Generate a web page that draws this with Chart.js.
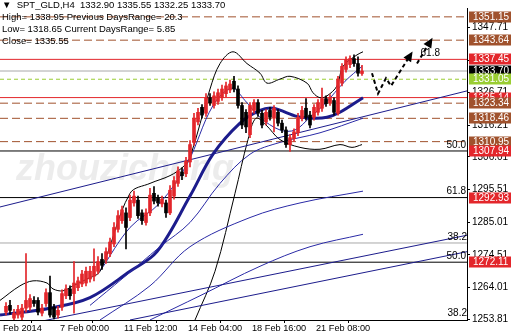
<!DOCTYPE html>
<html>
<head>
<meta charset="utf-8">
<script src="https://cdn.jsdelivr.net/npm/chart.js@4.4.0/dist/chart.umd.min.js"></script>
<style>
  html, body { margin: 0; padding: 0; background: #fff; }
</style>
</head>
<body>
<canvas id="chart" width="511" height="336"></canvas>
<script>
// SPT_GLD H4 candles (bar index, O/H/L/C)
const opens  = [1256.0,1258.2,1254.1,1255.1,1254.4,1257.3,1257.6,1259.8,1259.8,1255.7,1258.8,1262.3,1257.6,1255.1,1257.6,1261.3,1263.5,1262.0,1263.9,1265.1,1265.4,1266.7,1267.6,1269.2,1273.0,1273.0,1274.9,1278.0,1282.7,1285.5,1288.0,1286.5,1291.2,1292.1,1288.0,1284.9,1288.0,1294.3,1292.8,1290.9,1291.2,1288.0,1293.4,1297.5,1301.2,1300.6,1304.4,1310.7,1317.3,1322.0,1320.1,1325.1,1322.6,1323.9,1325.1,1326.4,1327.6,1330.4,1327.9,1322.6,1320.4,1313.2,1321.0,1323.5,1320.1,1317.3,1321.0,1318.5,1320.4,1316.9,1314.7,1310.0,1311.9,1313.8,1318.5,1321.7,1319.5,1318.8,1320.4,1321.7,1324.8,1323.5,1324.2,1320.1,1329.8,1334.2,1335.8,1337.7,1336.1,1332.90];
const highs  = [1259.1,1259.8,1256.9,1258.2,1258.5,1274.9,1261.7,1261.0,1260.7,1258.5,1263.5,1267.6,1258.5,1257.9,1263.2,1264.8,1264.5,1272.3,1267.3,1269.5,1270.5,1270.8,1276.4,1273.9,1274.9,1276.7,1279.9,1284.9,1288.7,1290.2,1289.6,1293.7,1295.0,1293.4,1289.0,1289.3,1295.9,1296.5,1293.7,1293.4,1292.1,1296.8,1299.7,1302.8,1302.5,1305.9,1311.3,1320.1,1321.7,1322.9,1326.4,1326.4,1327.0,1327.9,1329.2,1330.1,1330.8,1332.0,1328.9,1323.5,1321.3,1323.5,1324.5,1324.5,1321.0,1321.3,1322.0,1322.6,1321.3,1317.9,1315.7,1313.2,1315.1,1320.1,1322.3,1324.8,1320.7,1322.9,1324.5,1328.2,1325.7,1326.1,1325.1,1332.0,1336.1,1338.3,1338.6,1338.9,1338.3,1335.55];
const lows   = [1255.1,1255.4,1253.5,1254.1,1253.5,1256.0,1256.6,1257.9,1255.1,1254.8,1257.9,1254.4,1253.8,1254.1,1256.6,1260.4,1260.1,1255.7,1262.9,1264.2,1264.5,1265.7,1266.1,1268.3,1269.8,1271.7,1273.9,1277.1,1281.8,1284.6,1276.4,1285.5,1290.2,1286.2,1284.3,1284.0,1287.1,1290.9,1290.2,1289.9,1286.5,1287.4,1292.4,1296.5,1298.7,1299.7,1302.8,1309.7,1316.3,1318.5,1319.1,1322.6,1321.7,1322.9,1324.2,1325.4,1326.7,1327.0,1321.7,1315.1,1313.8,1312.2,1320.1,1319.1,1315.4,1316.3,1317.9,1314.1,1316.0,1313.8,1309.1,1307.8,1311.0,1312.9,1317.6,1317.9,1315.4,1317.9,1319.5,1320.7,1322.3,1322.6,1319.5,1319.5,1328.9,1333.3,1334.8,1335.2,1332.0,1332.25];
const closes = [1257.9,1256.6,1255.7,1256.9,1257.3,1259.8,1260.4,1258.8,1256.0,1257.3,1262.3,1255.1,1254.4,1256.6,1262.0,1263.5,1261.3,1265.4,1266.1,1268.3,1269.2,1269.2,1270.8,1272.3,1271.1,1275.5,1278.6,1283.3,1287.1,1289.0,1283.3,1292.1,1293.4,1287.1,1285.5,1288.0,1293.7,1291.8,1291.2,1292.4,1288.0,1295.3,1298.4,1301.5,1300.0,1304.7,1310.0,1318.5,1320.4,1319.5,1325.1,1323.5,1325.7,1326.7,1327.9,1328.9,1329.5,1327.9,1322.6,1316.3,1315.7,1322.6,1323.5,1320.1,1316.3,1320.4,1318.8,1321.7,1316.9,1314.7,1310.0,1312.2,1314.1,1318.8,1321.0,1318.8,1316.3,1322.0,1323.5,1324.8,1323.2,1325.1,1320.4,1331.1,1335.2,1337.4,1337.7,1336.1,1333.0,1333.70];

// indicator lines: [bar index, price]
const maFast  = [[23.5,1269.2],[31,1283.3],[38.5,1291.2],[45.25,1303.7],[51.75,1322.6],[56.5,1328.2],[59.75,1324.2],[63.5,1318.8],[68.5,1314.7],[72.25,1314.7],[76,1318.8],[79.75,1323.2],[84.75,1330.4],[89,1335.2]];
const maThick = [[-1.5,1255.1],[11,1257.3],[21,1260.7],[31,1269.2],[37.75,1275.5],[46,1293.4],[51.75,1306.9],[58.5,1316.9],[63.5,1321.0],[66.75,1321.7],[72.75,1319.1],[76.75,1318.5],[80.25,1318.8],[83.5,1320.4],[89.25,1325.1]];
const maSlow  = [[21,1258.2],[29.25,1267.0],[38.5,1277.1],[46,1284.9],[53.5,1297.5],[61,1306.9],[68.5,1310.7],[78.5,1313.8],[89.25,1318.5]];
const maLong1 = [[23.5,1253.5],[36,1264.5],[46,1277.1],[61,1286.5],[73.5,1291.2],[89.25,1295.0]];
const maLong2 = [[36,1253.5],[48.5,1261.3],[63.5,1270.8],[76,1277.1],[89.25,1281.1]];
const bandUpper = [[-1.5,1259.8],[3.5,1264.5],[6.75,1266.1],[10.25,1265.4],[11.75,1263.5],[14.25,1262.9],[16.75,1264.5],[20.25,1266.7],[23.5,1269.2],[31,1294.3],[36,1297.5],[41,1300.0],[44.25,1302.8],[46,1305.9],[51,1327.9],[53.5,1336.1],[56.75,1339.9],[60.25,1336.1],[63.5,1333.0],[65.25,1329.8],[68.5,1331.1],[71,1332.0],[75.25,1329.8],[76.75,1326.7],[78.5,1325.1],[80.25,1325.7],[82.75,1328.9],[84.25,1335.2],[87.75,1338.9],[89.25,1339.9]];
const bandLower = [[47.25,1253.5],[52.25,1269.2],[57.25,1294.3],[60.5,1311.6],[62.5,1318.5],[65,1316.3],[68.5,1311.6],[73.5,1309.1],[78.5,1308.5],[83.5,1310.0],[86.5,1309.1],[89,1310.0]];
const trend1 = [[-1.5,1289.9],[115.25,1327.3]];
const trend2 = [[-1.5,1250.4],[115.25,1280.8]];
const trend3 = [[31,1253.5],[115.25,1275.5]];
const forecast1 = [[91.5,1333.0],[93,1326.4],[95,1331.4],[96.25,1328.9],[101.25,1339.2]];
const forecast2 = [[102.75,1336.1],[106.25,1343.6]];

// horizontal levels and right-hand price tags
const levelPrices = [1351.15, 1343.64, 1337.45, 1333.70, 1331.05, 1325.14, 1323.34, 1318.46, 1310.95, 1307.94, 1292.93, 1278.30, 1272.11];
const levelKinds  = ['brown','brown','red','gray','green','red','brown','brown','brown','black','black','gray','black'];
const tagPrices = [1351.15, 1343.64, 1337.45, 1333.70, 1331.05, 1325.14, 1323.34, 1318.46, 1310.95, 1307.94, 1292.93, 1272.11];
const tagKinds  = ['brown','brown','red','black','green','red','brown','brown','brown','red','red','red'];
const fibTexts  = ['61.8', '50.0', '61.8', '38.2', '50.0', '38.2'];
const fibPrices = [1337.45, 1307.94, 1292.93, 1278.30, 1272.11, 1253.81];
const fibAtBar  = [108.5, 115, 115, 115.25, 115, 115.25];

const priceTicks = [1347.71, 1337.21, 1326.71, 1316.21, 1306.01, 1295.51, 1285.01, 1274.51, 1264.01, 1253.81];
const timeTicks  = [-0.75, 13.5, 29.5, 45.5, 61.5, 77.5];
const timeLabels = ['Feb 2014', '7 Feb 00:00', '11 Feb 12:00', '14 Feb 04:00', '18 Feb 16:00', '21 Feb 08:00'];

const headerLines = [
    '\u25BC  SPT_GLD,H4  1332.90 1335.55 1332.25 1333.70',
    'High= 1338.95 Previous DaysRange= 20.3',
    'Low= 1318.65 Current DaysRange= 5.85',
    'Close= 1335.55'
];

const COLORS = {
    brown: '#a0522d',
    red: '#e3262b',
    gray: '#a8a8a8',
    green: '#9acd32',
    black: '#000000',
    navy: '#1c1c8c',
    blue: '#2a2aa6'
};
const FONT = '"Liberation Sans", "DejaVu Sans", sans-serif';
const X_MIN = -1.5;
const X_MAX = 115.25;

const isUp = (i) => closes[i] >= opens[i];
const candleColor = (ctx) => (isUp(ctx.dataIndex) ? COLORS.red : COLORS.black);
const toPoints = (arr) => arr.map(([x, y]) => ({ x, y }));

function lineSet(points, color, width, extra = {}) {
    return Object.assign({
        type: 'line',
        data: toPoints(points),
        borderColor: color,
        borderWidth: width,
        pointRadius: 0,
        tension: 0.35,
        fill: false,
        order: 5
    }, extra);
}

function levelSet(price, kind) {
    const dash = kind === 'brown' ? [8, 4] : kind === 'green' ? [4, 3] : [];
    return {
        type: 'line',
        data: [{ x: X_MIN, y: price }, { x: X_MAX, y: price }],
        borderColor: COLORS[kind],
        borderWidth: 1,
        borderDash: dash,
        pointRadius: 0,
        order: 10
    };
}

const datasets = [];
levelPrices.forEach((p, i) => datasets.push(levelSet(p, levelKinds[i])));
datasets.push(lineSet(trend1, COLORS.navy, 1, { tension: 0 }));
datasets.push(lineSet(trend2, COLORS.navy, 1, { tension: 0 }));
datasets.push(lineSet(trend3, COLORS.navy, 1, { tension: 0 }));
datasets.push(lineSet(maLong1, COLORS.blue, 1));
datasets.push(lineSet(maLong2, COLORS.blue, 1));
datasets.push(lineSet(bandUpper, '#000', 1));
datasets.push(lineSet(bandLower, '#000', 1));
datasets.push(lineSet(maSlow, COLORS.blue, 1));
datasets.push(lineSet(maFast, COLORS.blue, 1));
datasets.push(lineSet(maThick, COLORS.navy, 3));

datasets.push({
    type: 'bar',
    data: opens.map((o, i) => ({ x: i, y: [lows[i], highs[i]] })),
    backgroundColor: candleColor,
    barThickness: 1,
    grouped: false,
    order: 2
});
datasets.push({
    type: 'bar',
    data: opens.map((o, i) => ({ x: i, y: [Math.min(o, closes[i]), Math.max(o, closes[i])] })),
    backgroundColor: candleColor,
    barThickness: 3,
    grouped: false,
    order: 1
});

datasets.push(lineSet(forecast1, '#000', 2, { tension: 0, borderDash: [4, 3], arrow: true, order: 0 }));
datasets.push(lineSet(forecast2, '#000', 2, { tension: 0, borderDash: [4, 3], arrow: true, order: 0 }));

const overlay = {
    id: 'overlay',
    beforeDatasetsDraw(chart) {
        const { ctx } = chart;
        ctx.save();
        ctx.font = 'italic bold 36px ' + FONT;
        ctx.fillStyle = 'rgba(200, 200, 200, 0.35)';
        ctx.textBaseline = 'alphabetic';
        ctx.fillText('zhouzicheng', 16, 180);
        ctx.restore();
    },
    afterDatasetsDraw(chart) {
        const { ctx, scales } = chart;
        ctx.save();

        // arrow heads on the forecast path
        chart.data.datasets.forEach((ds, idx) => {
            if (!ds.arrow) return;
            const pts = chart.getDatasetMeta(idx).data;
            const a = pts[pts.length - 2];
            const b = pts[pts.length - 1];
            const ang = Math.atan2(b.y - a.y, b.x - a.x);
            ctx.fillStyle = '#000';
            ctx.beginPath();
            ctx.moveTo(b.x + Math.cos(ang) * 3, b.y + Math.sin(ang) * 3);
            ctx.lineTo(b.x - Math.cos(ang) * 7 - Math.sin(ang) * 4.5, b.y - Math.sin(ang) * 7 + Math.cos(ang) * 4.5);
            ctx.lineTo(b.x - Math.cos(ang) * 7 + Math.sin(ang) * 4.5, b.y - Math.sin(ang) * 7 - Math.cos(ang) * 4.5);
            ctx.closePath();
            ctx.fill();
        });

        // fibonacci level captions
        ctx.font = '10px ' + FONT;
        ctx.fillStyle = '#000';
        ctx.textAlign = 'right';
        ctx.textBaseline = 'bottom';
        fibTexts.forEach((t, i) => {
            ctx.fillText(t, scales.x.getPixelForValue(fibAtBar[i]), scales.y.getPixelForValue(fibPrices[i]) - 1);
        });

        // header text
        ctx.textAlign = 'left';
        ctx.textBaseline = 'middle';
        ctx.font = '9.5px ' + FONT;
        headerLines.forEach((line, i) => ctx.fillText(line, 2, 5 + i * 12));
        ctx.restore();
    },
    afterDraw(chart) {
        const { ctx, chartArea, scales } = chart;
        ctx.save();
        ctx.font = '10px ' + FONT;
        ctx.textBaseline = 'middle';
        ctx.textAlign = 'left';
        tagPrices.forEach((p, i) => {
            const y = Math.round(scales.y.getPixelForValue(p));
            const x = chartArea.right + 2;
            ctx.fillStyle = COLORS[tagKinds[i]];
            ctx.fillRect(x, y - 5.5, chart.width - x, 11);
            ctx.fillStyle = '#fff';
            ctx.fillText(p.toFixed(2), x + 4, y + 0.5);
        });
        ctx.restore();
    }
};

new Chart(document.getElementById('chart'), {
    type: 'bar',
    data: { datasets },
    options: {
        responsive: false,
        animation: false,
        events: [],
        layout: { padding: 0 },
        plugins: {
            legend: { display: false },
            tooltip: { enabled: false }
        },
        scales: {
            x: {
                type: 'linear',
                min: X_MIN,
                max: X_MAX,
                offset: false,
                afterBuildTicks: (scale) => { scale.ticks = timeTicks.map((v) => ({ value: v })); },
                afterFit: (scale) => { scale.height = 16; },
                ticks: {
                    align: 'start',
                    padding: 0,
                    maxRotation: 0,
                    color: '#000',
                    font: { family: FONT, size: 9.2 },
                    callback: (v) => timeLabels[timeTicks.indexOf(v)]
                },
                grid: { drawOnChartArea: false, tickLength: 3, color: '#000' },
                border: { display: true, color: '#000' }
            },
            y: {
                position: 'right',
                min: 1253.49,
                max: 1354.0,
                afterBuildTicks: (scale) => { scale.ticks = priceTicks.map((v) => ({ value: v })); },
                afterFit: (scale) => { scale.width = 44; },
                ticks: {
                    padding: 2,
                    color: '#000',
                    font: { family: FONT, size: 10 },
                    callback: (v) => Number(v).toFixed(2)
                },
                grid: { drawOnChartArea: false, tickLength: 3, color: '#000' },
                border: { display: true, color: '#000' }
            }
        }
    },
    plugins: [overlay]
});
</script>
</body>
</html>
